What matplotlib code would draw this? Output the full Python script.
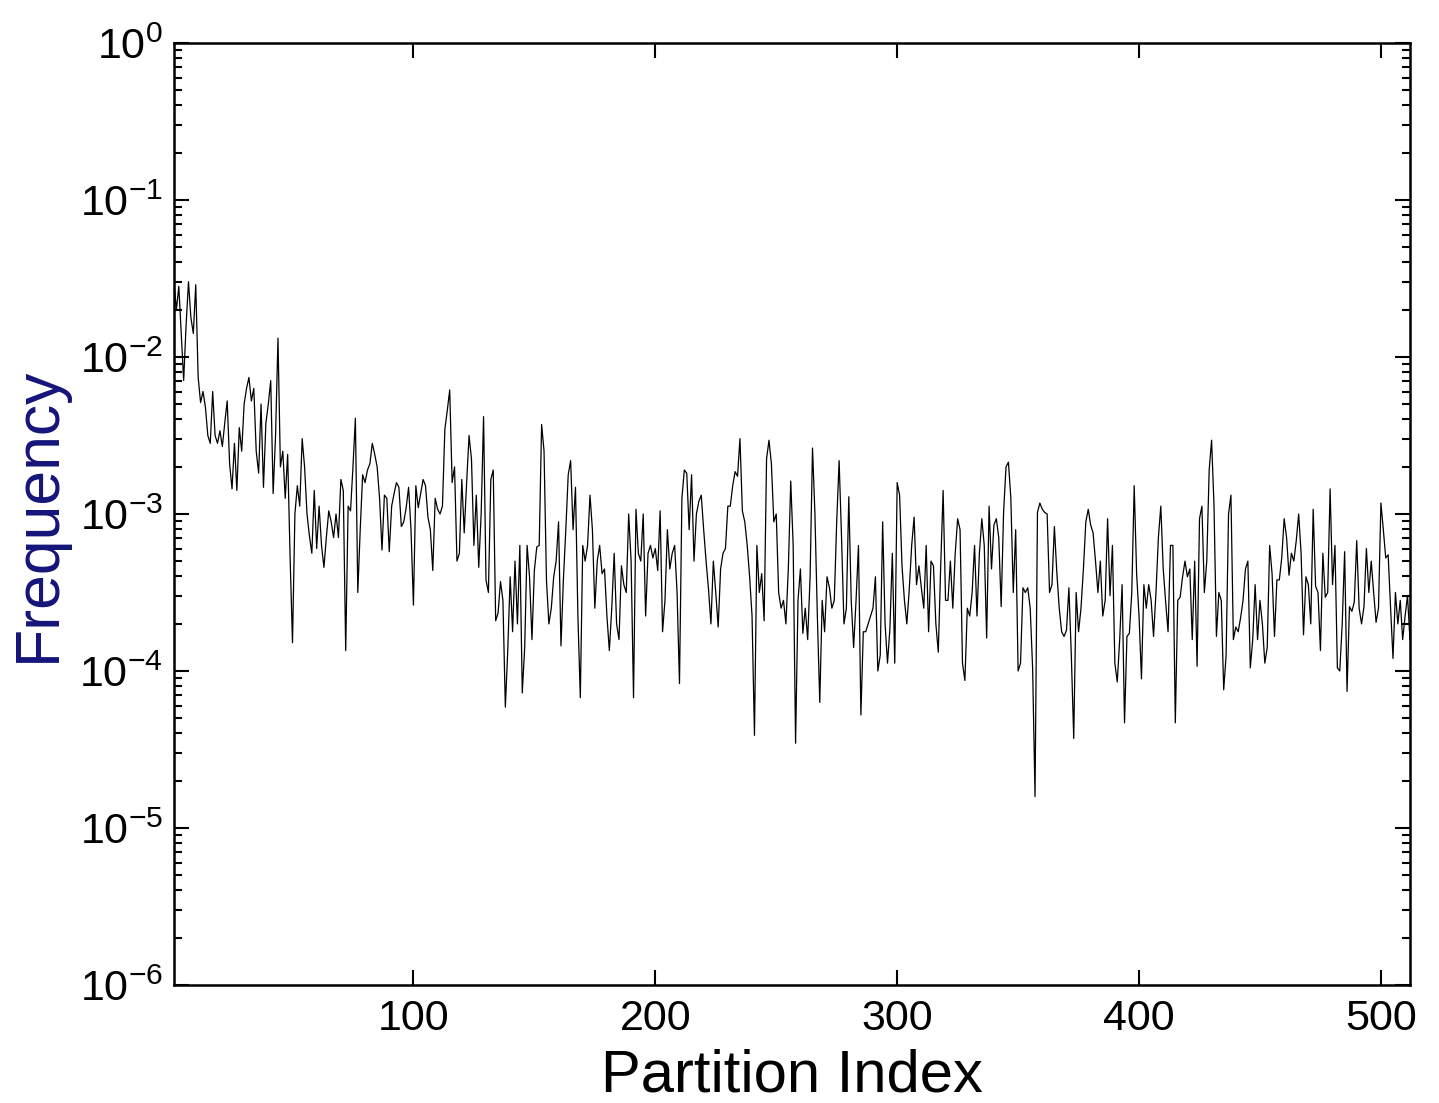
import numpy as np
import matplotlib
matplotlib.use("Agg")
import matplotlib.pyplot as plt
from matplotlib.ticker import LogLocator, NullFormatter, FixedLocator

plt.rcParams['font.family'] = ['Liberation Sans', 'DejaVu Sans']
plt.rcParams['mathtext.fontset'] = 'custom'
plt.rcParams['mathtext.rm'] = 'Liberation Sans'
plt.rcParams['mathtext.it'] = 'Liberation Sans'
plt.rcParams['mathtext.default'] = 'regular'
plt.rcParams['axes.unicode_minus'] = False

# log10 of the frequency for partition index 1..512
log_freq = [
    # 1-44
    -1.52, -1.70, -1.55, -1.85, -2.15, -1.80, -1.52, -1.75, -1.85, -1.54,
    -2.13, -2.29, -2.22, -2.32, -2.50, -2.55, -2.22, -2.50, -2.55, -2.47,
    -2.57, -2.42, -2.28, -2.68, -2.84, -2.55, -2.85, -2.45, -2.60, -2.30,
    -2.20, -2.13, -2.28, -2.20, -2.60, -2.74, -2.30, -2.83, -2.42, -2.30,
    -2.15, -2.87, -2.50, -1.88,
    # 45-86
    -2.70, -2.60, -2.90, -2.62, -3.27, -3.82, -3.00, -2.82, -2.95, -2.52,
    -2.70, -3.00, -3.14, -3.25, -2.85, -3.22, -2.95, -3.20, -3.34, -3.15,
    -2.98, -3.05, -3.15, -3.00, -3.15, -2.78, -2.85, -3.87, -2.95, -2.98,
    -2.70, -2.39, -3.50, -3.10, -2.75, -2.80, -2.72, -2.68, -2.55, -2.62,
    -2.70, -2.90,
    # 87-128
    -3.23, -2.88, -2.90, -3.24, -2.95, -2.87, -2.80, -2.83, -3.08, -3.05,
    -2.96, -2.83, -3.10, -3.58, -2.82, -2.96, -2.87, -2.78, -2.82, -3.02,
    -3.10, -3.36, -2.90, -2.97, -3.00, -2.95, -2.46, -2.34, -2.21, -2.80,
    -2.70, -3.30, -3.25, -2.78, -3.12, -2.80, -2.50, -2.65, -3.20, -2.88,
    -3.34, -3.00,
    # 129-170
    -2.38, -3.42, -3.50, -2.78, -2.72, -3.68, -3.63, -3.43, -3.55, -4.23,
    -3.87, -3.40, -3.75, -3.30, -3.70, -3.20, -4.14, -3.85, -3.20, -3.40,
    -3.80, -3.36, -3.21, -3.20, -2.43, -2.60, -3.42, -3.70, -3.60, -3.40,
    -3.30, -3.05, -3.84, -3.42, -3.10, -2.75, -2.66, -3.10, -2.83, -3.65,
    -4.17, -3.20,
    # 171-212
    -3.30, -3.20, -2.88, -3.10, -3.60, -3.30, -3.20, -3.38, -3.35, -3.65,
    -3.87, -3.60, -3.25, -3.70, -3.80, -3.33, -3.45, -3.50, -3.00, -3.30,
    -4.17, -2.97, -3.25, -3.30, -3.00, -3.65, -3.25, -3.20, -3.28, -3.22,
    -3.36, -2.98, -3.75, -3.55, -3.10, -3.35, -3.25, -3.20, -3.50, -4.08,
    -2.90, -2.72,
    # 213-254
    -2.74, -3.10, -2.75, -3.30, -3.00, -2.92, -2.88, -3.10, -3.30, -3.48,
    -3.70, -3.30, -3.50, -3.72, -3.35, -3.25, -3.22, -2.95, -2.95, -2.82,
    -2.73, -2.76, -2.52, -2.98, -3.05, -3.20, -3.40, -3.65, -4.41, -3.20,
    -3.50, -3.38, -3.68, -2.65, -2.53, -2.68, -3.05, -3.00, -3.50, -3.60,
    -3.55, -3.70,
    # 255-296
    -3.35, -2.79, -3.20, -4.46, -3.55, -3.35, -3.76, -3.60, -3.80, -3.40,
    -2.58, -3.00, -3.65, -4.20, -3.55, -3.75, -3.40, -3.47, -3.60, -3.55,
    -3.05, -2.66, -3.15, -3.70, -3.60, -2.89, -3.55, -3.85, -3.55, -3.20,
    -4.28, -3.75, -3.75, -3.70, -3.65, -3.60, -3.40, -4.00, -3.90, -3.05,
    -3.70, -3.95,
    # 297-338
    -3.73, -3.25, -3.95, -2.80, -2.88, -3.33, -3.55, -3.70, -3.48, -3.20,
    -3.02, -3.45, -3.33, -3.47, -3.60, -3.20, -3.75, -3.30, -3.33, -3.70,
    -3.88, -3.33, -2.85, -3.55, -3.55, -3.30, -3.60, -3.25, -3.03, -3.10,
    -3.95, -4.06, -3.60, -3.65, -3.50, -3.20, -3.65, -3.25, -3.03, -3.20,
    -3.79, -2.95,
    # 339-381
    -3.35, -3.07, -3.03, -3.15, -3.59, -2.99, -2.70, -2.67, -2.90, -3.50,
    -3.10, -4.00, -3.95, -3.47, -3.50, -3.47, -3.60, -3.98, -4.80, -2.99,
    -2.93, -2.97, -2.99, -3.00, -3.50, -3.45, -3.08, -3.37, -3.60, -3.75,
    -3.78, -3.74, -3.47, -3.90, -4.43, -3.50, -3.75, -3.60, -3.35, -3.05,
    -2.97, -3.07, -3.12,
    # 382-423
    -3.30, -3.50, -3.30, -3.65, -3.55, -3.03, -3.52, -3.20, -3.95, -4.07,
    -3.80, -3.45, -4.33, -3.78, -3.76, -3.50, -2.82, -3.38, -3.65, -4.05,
    -3.45, -3.60, -3.45, -3.55, -3.78, -3.50, -3.15, -2.95, -3.35, -3.56,
    -3.75, -3.20, -3.20, -4.33, -3.55, -3.53, -3.40, -3.30, -3.40, -3.35,
    -3.80, -3.30,
    # 424-467
    -3.97, -3.03, -2.95, -3.50, -3.30, -2.72, -2.53, -2.95, -3.78, -3.50,
    -3.55, -4.12, -3.90, -3.00, -2.88, -3.80, -3.72, -3.75, -3.66, -3.55,
    -3.35, -3.30, -3.98, -3.80, -3.45, -3.80, -3.55, -3.70, -3.95, -3.85,
    -3.20, -3.38, -3.78, -3.42, -3.42, -3.28, -3.03, -3.15, -3.39, -3.25,
    -3.30, -3.17, -3.00, -3.25,
    # 468-512
    -3.77, -3.40, -3.45, -3.70, -2.97, -3.46, -3.50, -3.87, -3.25, -3.53,
    -3.50, -2.84, -3.45, -3.20, -3.98, -4.00, -3.70, -3.24, -4.13, -3.59,
    -3.62, -3.56, -3.17, -3.60, -3.70, -3.59, -3.22, -3.50, -3.30, -3.50,
    -3.69, -3.60, -2.93, -3.10, -3.28, -3.26, -3.60, -3.92, -3.50, -3.70,
    -3.55, -3.80, -3.65, -3.52, -3.80,
]

partition_index = np.arange(1, len(log_freq) + 1)
frequency = 10.0 ** np.array(log_freq)

x_ticks = [100, 200, 300, 400, 500]

fig = plt.figure(figsize=(14.39, 11.03), dpi=100)
ax = fig.add_axes([0.1209, 0.107, 0.8589, 0.854])

ax.semilogy(partition_index, frequency, color='black', linewidth=0.9)

ax.set_xlim(1, 512)
ax.set_ylim(1e-6, 1e0)
ax.xaxis.set_major_locator(FixedLocator(x_ticks))
ax.yaxis.set_major_locator(LogLocator(base=10, numticks=10))
ax.yaxis.set_minor_locator(LogLocator(base=10, subs=np.arange(2, 10), numticks=20))
ax.yaxis.set_minor_formatter(NullFormatter())

ax.tick_params(which='both', direction='in', top=True, right=True,
               width=1.5, labelsize=31)
ax.tick_params(axis='x', which='major', length=11, pad=10)
ax.tick_params(axis='y', which='major', length=11, pad=8)
ax.tick_params(which='minor', length=6)
for s in ax.spines.values():
    s.set_linewidth(1.8)

ax.set_xlabel('Partition Index', fontsize=43, labelpad=7)
ax.set_ylabel('Frequency', fontsize=45, color='#14147a', labelpad=8)

fig.savefig('out.png', dpi=100)
